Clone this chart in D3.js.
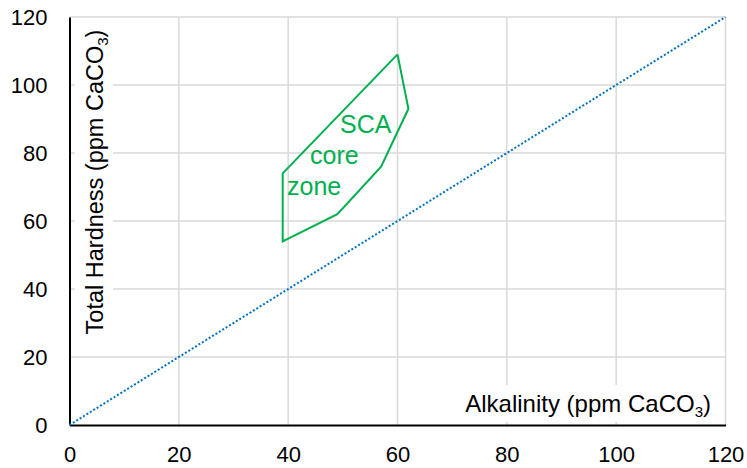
<!DOCTYPE html>
<html>
<head>
<meta charset="utf-8">
<style>
    body { margin: 0; background: white; }
    svg { display: block; font-family: 'Liberation Sans', Arial, sans-serif; }
</style>
</head>
<body>
<svg width="747" height="468"></svg>
<script src="https://d3js.org/d3.v7.min.js"></script>
<script>
    // chart values
    let xTicks = [0, 20, 40, 60, 80, 100, 120]
    let yTicks = [0, 20, 40, 60, 80, 100, 120]
    let zoneX = [60, 62, 57, 49, 39, 39, 60]
    let zoneY = [109, 93, 76, 62, 54, 74, 109]
    let lineX = [0, 120]
    let lineY = [0, 120]
    let zoneWords = ["SCA", "core", "zone"]
    let wordX = [49.5, 44, 39.8]
    let wordY = [85.8, 76.7, 67.6]

    let width = 747, height = 468
    let margin = { left: 69.5, right: 21.5, top: 17, bottom: 43 }

    let svg = d3.select("svg")

    let x = d3.scaleLinear().domain([0, 120]).range([margin.left, width - margin.right])
    let y = d3.scaleLinear().domain([0, 120]).range([height - margin.bottom, margin.top])

    // gridlines
    svg.append("g")
        .selectAll("line")
        .data(xTicks.slice(1))
        .join("line")
        .attr("x1", d => x(d)).attr("x2", d => x(d))
        .attr("y1", y(0)).attr("y2", y(120))
        .style("stroke", "#d9d9d9").style("stroke-width", 1.5)

    svg.append("g")
        .selectAll("line")
        .data(yTicks.slice(1))
        .join("line")
        .attr("x1", x(0)).attr("x2", x(120))
        .attr("y1", d => y(d)).attr("y2", d => y(d))
        .style("stroke", "#d9d9d9").style("stroke-width", 1.5)

    // axes
    let xAxis = svg.append("g")
        .attr("transform", `translate(0,${y(0)})`)
        .call(d3.axisBottom(x).tickValues(xTicks).tickSize(0).tickPadding(21.5))
    let yAxis = svg.append("g")
        .attr("transform", `translate(${x(0)},0)`)
        .call(d3.axisLeft(y).tickValues(yTicks).tickSize(0).tickPadding(22))

    for (let ax of [xAxis, yAxis]) {
        ax.select(".domain").style("stroke", "#000").style("stroke-width", 2)
        ax.selectAll("text").style("font-size", "22px").style("fill", "#000")
            .style("font-family", "'Liberation Sans', Arial, sans-serif")
    }

    // y title with white box
    svg.append("rect")
        .attr("x", 75).attr("y", 26).attr("width", 38).attr("height", 312)
        .style("fill", "white")
    let yTitle = svg.append("text")
        .attr("transform", `translate(103,${(26 + 338) / 2}) rotate(-90)`)
        .attr("text-anchor", "middle")
        .style("font-size", "23.5px")
    yTitle.append("tspan").text("Total Hardness (ppm CaCO")
    yTitle.append("tspan").attr("font-size", "15px").attr("dy", 5).text("3")
    yTitle.append("tspan").attr("dy", -5).text(")")

    // x title with white box
    svg.append("rect")
        .attr("x", 458).attr("y", 385).attr("width", 262).attr("height", 37)
        .style("fill", "white")
    let xTitle = svg.append("text")
        .attr("x", 711).attr("y", 412)
        .attr("text-anchor", "end")
        .style("font-size", "24px")
    xTitle.append("tspan").text("Alkalinity (ppm CaCO")
    xTitle.append("tspan").attr("font-size", "15px").attr("dy", 5).text("3")
    xTitle.append("tspan").attr("dy", -5).text(")")

    // 1:1 line
    let line = d3.line().x(d => x(d[0])).y(d => y(d[1]))
    svg.append("path")
        .attr("d", line(d3.zip(lineX, lineY)))
        .style("fill", "none")
        .style("stroke", "#0070c0")
        .style("stroke-width", 2)
        .style("stroke-dasharray", "2,2")

    // core zone polygon
    svg.append("path")
        .attr("d", line(d3.zip(zoneX, zoneY)))
        .style("fill", "none")
        .style("stroke", "#00b050")
        .style("stroke-width", 2)
        .style("stroke-linejoin", "miter")

    svg.append("g")
        .selectAll("text")
        .data(zoneWords)
        .join("text")
        .attr("x", (d, i) => x(wordX[i]))
        .attr("y", (d, i) => y(wordY[i]))
        .text(d => d)
        .style("fill", "#00b050")
        .style("font-size", "25px")
</script>
</body>
</html>
